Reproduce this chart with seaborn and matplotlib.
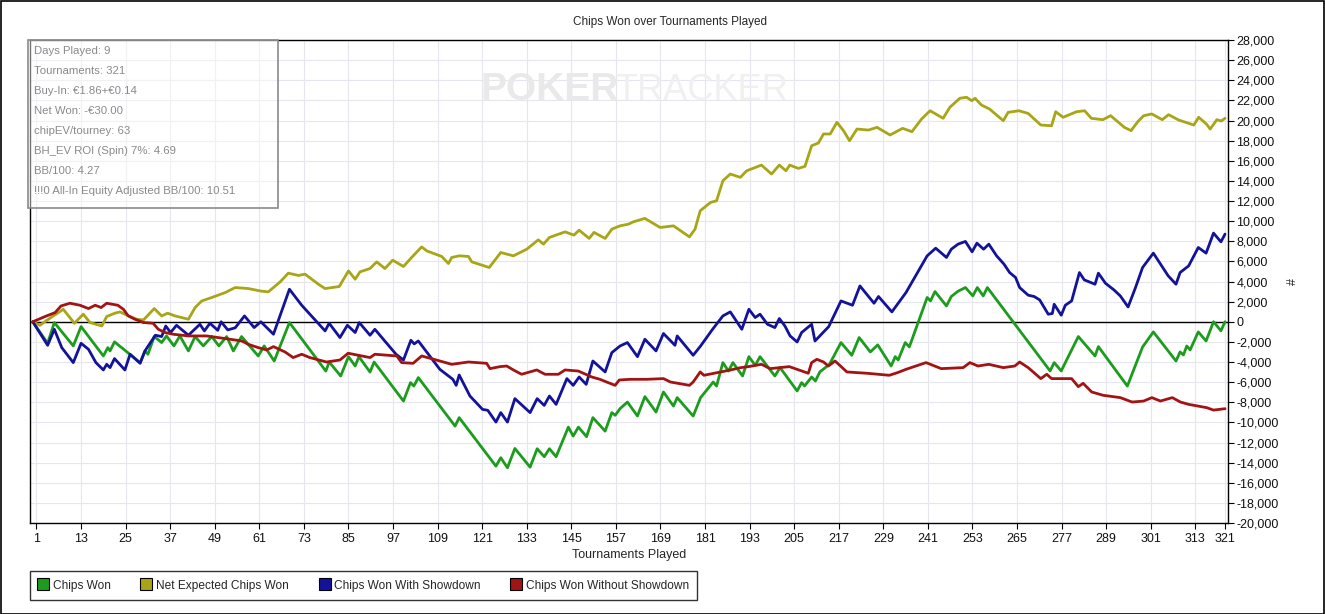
import matplotlib
matplotlib.use("Agg")
import matplotlib.pyplot as plt
import matplotlib.ticker as mticker
from matplotlib.patches import Rectangle
from matplotlib.lines import Line2D
import seaborn as sns
import pandas as pd

# ---------------- data ----------------
series_names = ["Chips Won", "Net Expected Chips Won",
                "Chips Won With Showdown", "Chips Won Without Showdown"]
series_colors = ["#1c9c1c", "#a8a616", "#12129a", "#a21414"]

green_t = [0, 4.0, 5.8, 10.9, 13, 19, 20.2, 20.8, 22, 28.9, 30.2, 31, 32.7, 34.7, 36, 38, 39.6,
           41.9, 43.7, 45.9, 48.2, 50.1, 52.2, 54, 56.2, 60.7, 62.3, 65, 69.1, 78.9, 79.8, 82.9,
           85, 86.8, 87.8, 90.8, 91.9, 99.8, 101.7, 102.6, 103.8, 113.7, 114.8, 124.7, 126,
           127.8, 129.8, 133.9, 135.8, 137.7, 139.1, 140.9, 144.2, 145.5, 146.9, 149.1, 150.8,
           154.1, 155.9, 156.8, 158.1, 160.1, 162.8, 164.8, 167.8, 169.8, 172.5, 173.5, 177.8,
           179.8, 183.2, 184.1, 185.8, 187.3, 188.5, 191.1, 192.8, 194.5, 195.8, 199.8, 201.2,
           205.8, 207, 207.8, 209.7, 210.7, 211.9, 214.5, 217.6, 220.5, 222.5, 225.5, 227.5,
           231.1, 232.2, 233, 234.9, 236, 240.8, 241.7, 242.9, 246, 247.3, 249.1, 251.1, 253.1,
           254.3, 255.9, 257, 273.9, 275, 276.9, 278, 281.5, 286, 286.9, 294.7, 298.8, 301.7,
           307.8, 308.9, 309.8, 310.7, 311.6, 313.8, 315.9, 317.9, 319.9, 321]
green_v = [0, -2140, -80, -2400, -480, -3400, -2570, -2900, -2000, -4060, -2900, -3230, -1470,
           -2070, -1410, -2400, -1410, -2900, -1470, -2400, -1470, -2400, -1470, -2900, -1470,
           -3400, -2400, -3900, -80, -4900, -4000, -5390, -3470, -4400, -3470, -5000, -4000,
           -7880, -6050, -6390, -5550, -10370, -9530, -14350, -13510, -14510, -12590, -14450,
           -12620, -13410, -12620, -13410, -10470, -11360, -10470, -11420, -9530, -10870, -9030,
           -9300, -8640, -7980, -9370, -7440, -8970, -6980, -8380, -7540, -9370, -7540, -5990,
           -6390, -4060, -4900, -4060, -5390, -3470, -4330, -3470, -5390, -4560, -6880, -6050,
           -6380, -5490, -5890, -4990, -4230, -2070, -3330, -1570, -3000, -2300, -4400, -3470,
           -3800, -2070, -2500, 2410, 2070, 3000, 1570, 2510, 3030, 3400, 2570, 3400, 2570, 3400,
           -4890, -4060, -4890, -4060, -1470, -3400, -2470, -6390, -2510, -1010, -3900, -3000,
           -3300, -2410, -2800, -1010, -1910, 0, -900, 0]

yellow_t = [0, 1.9, 5.5, 6.9, 8.2, 11.2, 13.6, 15.4, 18.6, 19.9, 22.1, 23.5, 24.8, 28, 29.8,
            32.7, 34.7, 36.3, 38.3, 41.9, 43.7, 45.5, 48.2, 51.8, 54.5, 58, 61.4, 63.4, 66.6,
            68.8, 71.5, 73.3, 76.9, 78.7, 82.5, 85, 86.8, 88.1, 90.8, 92.6, 94.8, 96.9, 99.8,
            102, 104.7, 106.1, 110.1, 111.9, 112.8, 114.8, 117.3, 118.2, 122.9, 126, 129.4,
            133, 136.1, 137.5, 139.1, 143.3, 145.7, 147.1, 149.8, 151.1, 154.1, 155.9, 158.1,
            160.4, 161.7, 164.8, 168.9, 172.5, 176.8, 178.3, 179.7, 182.5, 184.1, 185.8, 187.8,
            190.5, 192.2, 196.2, 198.9, 201, 202.8, 203.8, 206.1, 207.9, 209.7, 211.5, 212.9,
            214.7, 216.5, 218.3, 219.9, 221.9, 225, 227.3, 230.8, 234.2, 236.7, 239.3, 241.6,
            245.1, 246.9, 249.6, 251.4, 252.8, 253.7, 255.4, 257.6, 261.3, 262.6, 265.5, 268,
            271.4, 274.3, 275.4, 277.4, 281, 283.2, 285, 288.1, 290.2, 293.9, 295.7, 297.5,
            299.1, 301.3, 304.1, 305.8, 308.5, 312.6, 313.9, 316, 317, 318.8, 320, 321]
yellow_v = [0, -350, 580, 910, 1240, -150, 750, -80, -420, 520, 850, 980, 750, 250, 180, 1310,
            580, 850, 580, 250, 1410, 2070, 2410, 2900, 3400, 3300, 3050, 2970, 3960, 4830, 4600,
            4730, 3730, 3300, 3500, 5050, 4230, 4960, 5290, 5950, 5290, 6120, 5490, 6390, 7440,
            7040, 6490, 5790, 6390, 6550, 6490, 5950, 5390, 6880, 6550, 7210, 8140, 7710, 8380,
            8930, 8610, 9100, 8280, 8880, 8280, 9200, 9530, 9700, 9930, 10270, 9370, 9530, 8440,
            9200, 11030, 11860, 12020, 14010, 14680, 14350, 15000, 15570, 14680, 15570, 15000,
            15570, 15240, 15440, 17490, 17760, 18660, 18660, 19820, 18980, 17990, 19150, 19050,
            19320, 18560, 19220, 18890, 20150, 20970, 20220, 21310, 22210, 22310, 21970, 22210,
            21540, 21140, 19980, 20810, 20970, 20700, 19550, 19480, 20870, 20320, 20870, 20970,
            20220, 20080, 20480, 19320, 18990, 19880, 20480, 20650, 20080, 20580, 20050, 19550,
            20320, 19650, 19150, 20080, 19950, 20220]

blue_t = [0, 4, 5.8, 7.8, 10.9, 13, 15, 17, 19, 19.9, 20.8, 22, 24.8, 26.2, 28.9, 30.2, 33,
          34.7, 35.8, 37.1, 38.7, 41.9, 45, 46.2, 47.7, 49.8, 50.7, 52.5, 54.5, 57, 59.6, 61.4,
          64.8, 69.1, 72.4, 74.6, 78.7, 79.8, 82.7, 84.7, 86.8, 87.9, 90.8, 92.1, 97.8, 99.8,
          101.8, 102.7, 103.8, 109.6, 113.1, 114, 114.8, 117.7, 121.1, 122.5, 124.7, 126, 127.8,
          129.8, 133.9, 135.8, 137.7, 139.1, 140.9, 143.8, 145.5, 147.1, 149, 150.8, 154.1,
          155.9, 158.1, 160.1, 162.8, 164.8, 167.8, 169.8, 172.9, 173.5, 177.8, 179.8, 182.9,
          185.8, 187.8, 190.9, 192.8, 194.5, 195.8, 197.8, 199.8, 201, 202.5, 203.9, 205.8, 207,
          209.7, 210.6, 214.3, 217.6, 220.7, 222.7, 226.5, 227.7, 231.3, 235.1, 240.8, 243.1,
          246, 247.3, 249.1, 251.1, 252.9, 254.2, 256, 257.4, 259.5, 261.5, 263, 264.6, 265.7,
          268, 269.6, 271.1, 273.4, 274.5, 275, 276.9, 278, 279.7, 281.8, 283.1, 286, 286.9,
          288.8, 291.1, 292.8, 294.9, 296.9, 298.8, 301.7, 305.7, 307.8, 308.9, 311.2, 313.8,
          315.9, 317.9, 319.9, 321]
blue_v = [0, -2340, -750, -2570, -4060, -2140, -2740, -4060, -4790, -4230, -4560, -3660, -4790,
          -3230, -4130, -2900, -1340, -1470, -420, -1070, -350, -1340, -250, -910, -150, -850, 0,
          -810, -600, 580, -580, 0, -1240, 3230, 1640, 750, -910, -150, -1570, -350, -1070, -80,
          -1340, -750, -3230, -3800, -1840, -2200, -1910, -4730, -5720, -6320, -5290, -7380,
          -8710, -8800, -9970, -9030, -9970, -7640, -9030, -7640, -8310, -7380, -8210, -5650,
          -6320, -5490, -6220, -3900, -4990, -3070, -2410, -2070, -3470, -1740, -2900, -1170,
          -2340, -1410, -3330, -2410, -810, 580, 980, -750, 1240, 420, 750, -250, -580, 320,
          -420, -1410, -2010, -1070, -250, -1910, -480, 2070, 1640, 3560, 1840, 2510, 980, 2900,
          6550, 7310, 6390, 7210, 7710, 7980, 6950, 7810, 7210, 7710, 6550, 5720, 4890, 4400,
          3400, 2640, 2510, 2170, 750, 820, 1740, 650, 1640, 2070, 4890, 4160, 3730, 4830, 3830,
          3160, 2570, 1470, 3400, 5390, 6820, 4560, 3730, 4890, 5550, 7380, 6820, 8810, 7940,
          8710]

red_t = [0, 3.3, 6, 7.6, 10, 12.7, 15, 16.8, 18.4, 19.9, 22.9, 24.4, 25.7, 27.5, 29.8, 32.4,
         33.8, 35.6, 37.8, 41.9, 46.8, 51.8, 56.3, 58, 60.7, 63, 64.8, 67.9, 70.1, 72.4, 74.6,
         79.1, 82.7, 84.9, 90.8, 92.1, 98, 99.3, 102.4, 104.7, 109.6, 112.8, 117.3, 122.2,
         123.1, 125.8, 127.6, 129.4, 131.6, 135.7, 137.9, 141.5, 143.3, 146.9, 150.5, 152.7,
         154.5, 156.8, 157.9, 160.8, 165.3, 169.8, 171.7, 176.8, 177.8, 179.7, 180.7, 185.2,
         187.9, 190.6, 192.7, 196.2, 198.5, 203.7, 208.8, 209.7, 211.1, 212.9, 214.2, 216,
         219.2, 224.6, 230.6, 232.8, 235.1, 240.5, 244.6, 250.5, 252.3, 254.5, 257.4, 261.3,
         264.4, 265.7, 268, 271.4, 273, 274.3, 279.7, 281.5, 282.8, 285.1, 288.2, 292.8, 296,
         299.1, 301.3, 303.6, 306.8, 309, 311.2, 316.1, 317.9, 321]
red_v = [0, 520, 910, 1570, 1840, 1640, 1310, 1640, 1410, 1840, 1640, 1240, 580, 250, -80, -150,
         -750, -1070, -1240, -1410, -1410, -1670, -1910, -2240, -2570, -2800, -2470, -3000,
         -3560, -3230, -3560, -4000, -3800, -3130, -3560, -3230, -3400, -4060, -4130, -3400,
         -3900, -4230, -4000, -4130, -4660, -4460, -4400, -4790, -5220, -4790, -5220, -5220,
         -4790, -4900, -5490, -5720, -5990, -6320, -5790, -5720, -5720, -5650, -5990, -6320,
         -5990, -4990, -5320, -4990, -4790, -4560, -4460, -4230, -4660, -4460, -5120, -4060,
         -3730, -4000, -4400, -3900, -4990, -5120, -5320, -5060, -4730, -4060, -4660, -4560,
         -4060, -4400, -4230, -4560, -4400, -4000, -4560, -5650, -5220, -5650, -5650, -6450,
         -6120, -6980, -7310, -7540, -7980, -7880, -7540, -7880, -7540, -7980, -8210, -8540,
         -8780, -8640]

x_ticks = [1, 13, 25, 37, 49, 61, 73, 85, 97, 109, 121, 133, 145, 157, 169, 181, 193, 205,
           217, 229, 241, 253, 265, 277, 289, 301, 313, 321]
y_ticks = list(range(-20000, 28001, 2000))

info_lines = ["Days Played: 9", "Tournaments: 321", "Buy-In: \u20ac1.86+\u20ac0.14",
              "Net Won: -\u20ac30.00", "chipEV/tourney: 63", "BH_EV ROI (Spin) 7%: 4.69",
              "BB/100: 4.27", "!!!0 All-In Equity Adjusted BB/100: 10.51"]

# ---------------- build long frame ----------------
frames = []
for name, tt, vv in zip(series_names, [green_t, yellow_t, blue_t, red_t],
                        [green_v, yellow_v, blue_v, red_v]):
    frames.append(pd.DataFrame({"t": tt, "v": vv, "series": name}))
df = pd.concat(frames, ignore_index=True)

sns.set_theme(style="white")
base = ["Liberation Sans", "DejaVu Sans"]
plt.rcParams["font.family"] = base

W, H = 1325, 614
fig = plt.figure(figsize=(W / 100, H / 100), dpi=100)
fig.patch.set_facecolor("white")
ax = fig.add_axes([30 / W, 1 - 523 / H, (1228 - 30) / W, (523 - 40) / H])

ax.set_xlim(-0.75, 321.8)
ax.set_ylim(-20000, 28000)
ax.set_xticks(x_ticks)
ax.set_yticks(y_ticks)
ax.grid(True, color="#e6e6ee", linewidth=0.8)
ax.set_axisbelow(True)
ax.axhline(0, color="black", linewidth=1.0, zorder=2)

sns.lineplot(data=df, x="t", y="v", hue="series", hue_order=series_names,
             palette=series_colors, sort=False, estimator=None, linewidth=2.0,
             ax=ax, legend=False, zorder=3)

ax.yaxis.tick_right()
ax.yaxis.set_label_position("right")
ax.yaxis.set_major_formatter(mticker.FuncFormatter(lambda v, p: f"{int(v):,}"))
ax.tick_params(axis="y", which="major", length=4, width=0.8, color="black",
               labelsize=9, pad=2, right=True, left=False, labelcolor="#111111")
ax.tick_params(axis="x", which="major", length=4, width=0.8, color="black",
               labelsize=9, pad=3, bottom=True, labelcolor="#111111")
for s in ax.spines.values():
    s.set_color("black")
    s.set_linewidth(1.0)
ax.set_xlabel("Tournaments Played", fontsize=9, labelpad=3)
ax.set_ylabel("#", fontsize=9, rotation=90, labelpad=6)

# watermark
fig.text(480 / W, 1 - 90 / H, "POKER", fontsize=28, fontweight="bold", color="#e9e9e9",
         va="center", ha="left", zorder=0)
fig.text(615 / W, 1 - 90 / H, "TRACKER", fontsize=26, color="#f0f0f0",
         va="center", ha="left", zorder=0)

# title
fig.text(670 / W, 1 - 22 / H, "Chips Won over Tournaments Played", fontsize=8.5,
         ha="center", va="center")

# info box
fig.patches.append(Rectangle((28 / W, 1 - 208 / H), 250 / W, 168 / H, transform=fig.transFigure,
                             facecolor=(1, 1, 1, 0.45), edgecolor="#8a8a8a", linewidth=1.2,
                             zorder=5))
for i, line in enumerate(info_lines):
    fig.text(34 / W, 1 - (51.5 + 20 * i) / H, line, fontsize=8.2, color="#8a8a8a",
             ha="left", va="center", zorder=6)

# legend
handles = [Line2D([], [], linestyle="none", marker="s", markersize=8, markerfacecolor=c,
                  markeredgecolor="black", markeredgewidth=0.8) for c in series_colors]
leg = fig.legend(handles, series_names, loc="lower left",
                 bbox_to_anchor=(30 / W, 1 - 600 / H), ncol=4, frameon=True, fancybox=False,
                 edgecolor="black", fontsize=8.6, handlelength=0.8, handletextpad=0.4,
                 columnspacing=2.6, borderpad=0.7, borderaxespad=0)
leg.get_frame().set_linewidth(1.0)

# outer border
fig.patches.append(Rectangle((0.5 / W, 0.5 / H), (W - 1.5) / W, (H - 1.5) / H,
                             transform=fig.transFigure, fill=False, edgecolor="black",
                             linewidth=1.2))

fig.savefig("out.png", dpi=100)
